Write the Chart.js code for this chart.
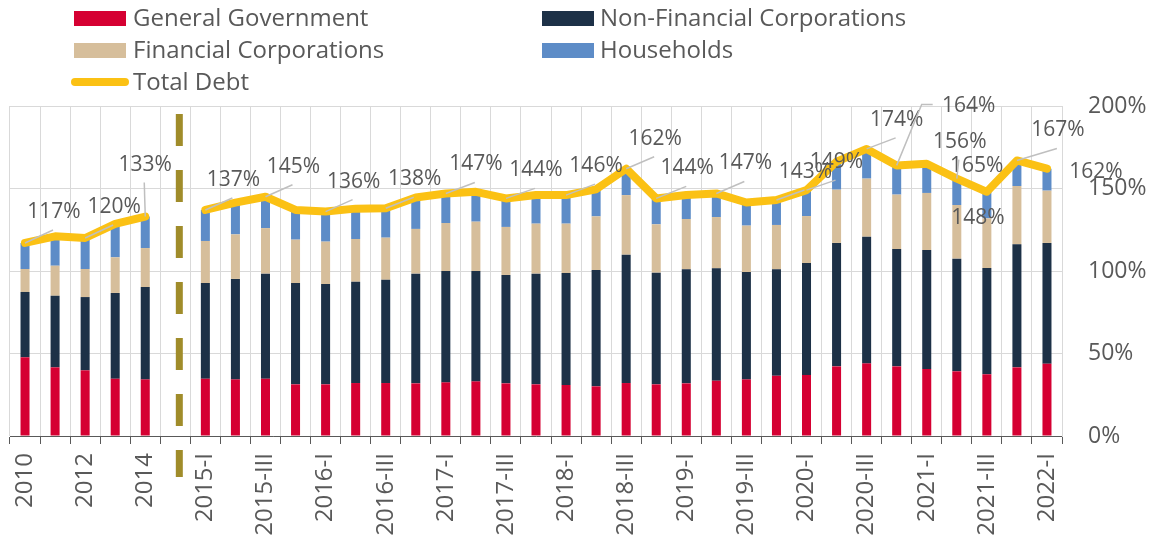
<!DOCTYPE html>
<html>
<head>
<meta charset="utf-8">
<title>Debt by sector</title>
<script src="https://cdn.jsdelivr.net/npm/chart.js@4"></script>
<style>
	body { margin: 0; background: #fff; font-family: 'Open Sans', sans-serif; }
	#wrap { position: relative; width: 1153px; height: 537px; }
	#myChart { position: absolute; left: 0; top: 0; }
	.lg { position: absolute; font-size: 24px; color: #595959; line-height: 1; white-space: nowrap; }
	.sw { position: absolute; width: 52px; height: 15px; }
	.ln { position: absolute; width: 58px; height: 8px; border-radius: 4px; background: #fbc114; }
</style>
</head>
<body>
<div id="wrap">
	<canvas id="myChart" width="1153" height="537"></canvas>
	<div class="sw" style="left:74px;top:11px;background:#d50032"></div>
	<div class="lg" style="left:133px;top:5px">General Government</div>
	<div class="sw" style="left:74px;top:43px;background:#d6be9b"></div>
	<div class="lg" style="left:133px;top:37px">Financial Corporations</div>
	<div class="ln" style="left:71px;top:78px"></div>
	<div class="lg" style="left:133px;top:69px">Total Debt</div>
	<div class="sw" style="left:542px;top:11px;background:#1d3147"></div>
	<div class="lg" style="left:600px;top:5px">Non-Financial Corporations</div>
	<div class="sw" style="left:542px;top:43px;background:#5d8cc7"></div>
	<div class="lg" style="left:600px;top:37px">Households</div>
</div>
<script>
	//DATA (% OF GDP), EMPTY SLOT IS THE BREAK BETWEEN YEARLY AND QUARTERLY
	const categories = ['2010', '2011', '2012', '2013', '2014', '',
		'2015-I', '2015-II', '2015-III', '2015-IV',
		'2016-I', '2016-II', '2016-III', '2016-IV',
		'2017-I', '2017-II', '2017-III', '2017-IV',
		'2018-I', '2018-II', '2018-III', '2018-IV',
		'2019-I', '2019-II', '2019-III', '2019-IV',
		'2020-I', '2020-II', '2020-III', '2020-IV',
		'2021-I', '2021-II', '2021-III', '2021-IV',
		'2022-I'];

	const generalGovernment = [47.7, 41.6, 39.8, 34.7, 34.3, null,
		34.7, 34.3, 34.7, 31.3, 31.3, 32.1, 32.1, 31.9, 32.5, 33.1, 31.9, 31.3,
		30.9, 30.1, 32.1, 31.3, 31.9, 33.5, 34.3, 36.5, 37.0, 42.2, 44.0, 42.2,
		40.6, 39.2, 37.4, 41.6, 43.8];

	const nonFinancialCorporations = [39.6, 43.4, 44.4, 52.0, 56.0, null,
		58.0, 60.9, 63.7, 61.4, 60.8, 61.4, 62.6, 66.5, 67.5, 66.9, 65.7, 67.1,
		67.9, 70.5, 77.8, 67.7, 69.1, 68.1, 65.1, 64.5, 67.8, 74.8, 76.8, 71.1,
		72.1, 68.3, 64.4, 74.6, 73.2];

	const financialCorporations = [13.9, 18.2, 17.0, 21.6, 23.6, null,
		25.5, 27.0, 27.6, 26.3, 25.7, 25.9, 25.5, 27.1, 29.1, 29.9, 29.1, 30.3,
		29.9, 32.5, 36.1, 29.3, 30.5, 31.1, 28.1, 26.9, 28.5, 32.3, 35.2, 33.0,
		34.6, 32.5, 30.1, 35.3, 31.7];

	const households = [15.8, 17.8, 18.8, 20.2, 19.1, null,
		18.8, 19.2, 19.0, 18.0, 18.2, 18.4, 17.8, 19.1, 17.9, 18.1, 17.3, 17.3,
		17.3, 16.4, 16.0, 15.7, 14.5, 14.3, 14.0, 15.1, 15.7, 17.0, 18.0, 17.7,
		17.7, 16.0, 16.1, 15.5, 13.3];

	const totalDebt = [117, 121, 120, 128.5, 133, null,
		137, 141.4, 145, 137, 136, 137.8, 138, 144.6, 147, 148, 144, 146,
		146, 149.5, 162, 144, 146, 147, 141.5, 143, 149, 166.3, 174, 164,
		165, 156, 148, 167, 162];

	const yTicks = [0, 50, 100, 150, 200];

	//WHERE EACH TOTAL LABEL SITS RELATIVE TO ITS POINT: [dx, dy, leader] (0 none, 1 straight, 2 elbow)
	const labelOffsets = [[29, -31, 1], null, [29, -31, 1], null, [0, -52, 1], null,
		[28, -30, 1], null, [28, -30, 1], null, [28, -30, 1], null, [29, -29, 1], null,
		[30, -29, 1], null, [30, -28, 1], null, [30, -29, 1], null, [29, -30, 1], [31, -30, 1],
		null, [29, -30, 1], null, [29, -28, 1], [30, -28, 1], null, [30, -29, 1], [72, -59, 2],
		[50, 2, 0], [3, -37, 1], [-9, 26, 0], [41, -30, 1], [49, 3, 0]];

	const BREAK_INDEX = 5;

	class DebtChartScreen {
		constructor() {
			this.Main();
		}

		Main() {
			Chart.defaults.font.family = "'Open Sans', sans-serif";
			Chart.defaults.color = '#595959';
			this.InitializeDebtChart();
		}

		//TOTAL LABELS WITH GREY LEADER LINES
		TotalLabelsPlugin() {
			return {
				id: 'totalLabels',
				afterDatasetsDraw(chart) {
					const ctx = chart.ctx;
					const meta = chart.getDatasetMeta(4);
					ctx.save();
					ctx.font = "21px 'Open Sans'";
					ctx.fillStyle = '#595959';
					ctx.textAlign = 'center';
					ctx.textBaseline = 'middle';
					ctx.strokeStyle = '#bfbfbf';
					ctx.lineWidth = 1.5;
					labelOffsets.forEach((off, i) => {
						if (!off || totalDebt[i] == null) return;
						const pt = meta.data[i];
						const tx = pt.x + off[0];
						const ty = pt.y + off[1];
						if (off[2] === 1) {
							ctx.beginPath();
							ctx.moveTo(pt.x, pt.y);
							ctx.lineTo(tx - 1, ty + 18);
							ctx.stroke();
						} else if (off[2] === 2) {
							ctx.beginPath();
							ctx.moveTo(pt.x, pt.y);
							ctx.lineTo(pt.x + 25, ty - 2);
							ctx.lineTo(tx - 36, ty - 2);
							ctx.stroke();
						}
						ctx.fillText(Math.round(totalDebt[i]) + '%', tx, ty);
					});
					ctx.restore();
				}
			};
		}

		//DASHED OLIVE DIVIDER BETWEEN YEARLY AND QUARTERLY DATA
		BreakLinePlugin() {
			return {
				id: 'breakLine',
				afterDraw(chart) {
					const ctx = chart.ctx;
					const x = chart.scales.x.getPixelForValue(BREAK_INDEX) + 4;
					ctx.save();
					ctx.strokeStyle = '#a08c2a';
					ctx.lineWidth = 7;
					ctx.setLineDash([32, 24]);
					ctx.beginPath();
					ctx.moveTo(x, chart.chartArea.top + 8);
					ctx.lineTo(x, chart.chartArea.bottom + 41);
					ctx.stroke();
					ctx.restore();
				}
			};
		}

		InitializeDebtChart() {
			const barStyle = { barPercentage: 0.3, categoryPercentage: 1.0, stack: 'debt', order: 1, borderWidth: 0 };

			const data = {
				labels: categories,
				datasets: [
					Object.assign({ label: 'General Government', data: generalGovernment, backgroundColor: '#d50032' }, barStyle),
					Object.assign({ label: 'Non-Financial Corporations', data: nonFinancialCorporations, backgroundColor: '#1d3147' }, barStyle),
					Object.assign({ label: 'Financial Corporations', data: financialCorporations, backgroundColor: '#d6be9b' }, barStyle),
					Object.assign({ label: 'Households', data: households, backgroundColor: '#5d8cc7' }, barStyle),
					{
						type: 'line',
						label: 'Total Debt',
						data: totalDebt,
						stack: 'total',
						order: 0,
						borderColor: '#fbc114',
						borderWidth: 8,
						borderCapStyle: 'round',
						borderJoinStyle: 'round',
						pointRadius: 0,
						tension: 0,
						spanGaps: false
					}
				]
			};

			const config = {
				type: 'bar',
				data: data,
				plugins: [this.TotalLabelsPlugin(), this.BreakLinePlugin()],
				options: {
					responsive: false,
					devicePixelRatio: 1,
					animation: false,
					layout: { padding: { left: 10, top: 106, right: 0, bottom: 0 } },
					plugins: {
						legend: { display: false },
						tooltip: { enabled: false }
					},
					scales: {
						x: {
							stacked: true,
							offset: true,
							grid: { offset: true, color: '#d9d9d9', tickColor: '#595959', tickLength: 8 },
							border: { color: '#595959' },
							ticks: {
								autoSkip: false,
								minRotation: 90,
								maxRotation: 90,
								padding: 9,
								color: '#595959',
								font: { size: 24 },
								callback: (v, i) => (i % 2 === 0 ? categories[i] : '')
							},
							afterFit: (scale) => { scale.height = 101; }
						},
						y: {
							stacked: true,
							position: 'right',
							min: 0,
							max: 200,
							grid: { color: '#d9d9d9', drawTicks: false },
							border: { color: '#d9d9d9' },
							afterBuildTicks: (scale) => { scale.ticks = yTicks.map(v => ({ value: v })); },
							ticks: {
								padding: 26,
								color: '#595959',
								font: { size: 23 },
								callback: (v) => v + '%'
							},
							afterFit: (scale) => { scale.width = 91; }
						}
					}
				}
			};

			const myChart = new Chart(document.getElementById('myChart'), config);
		}
	}

	var startDebtChart = new DebtChartScreen();
</script>
</body>
</html>
